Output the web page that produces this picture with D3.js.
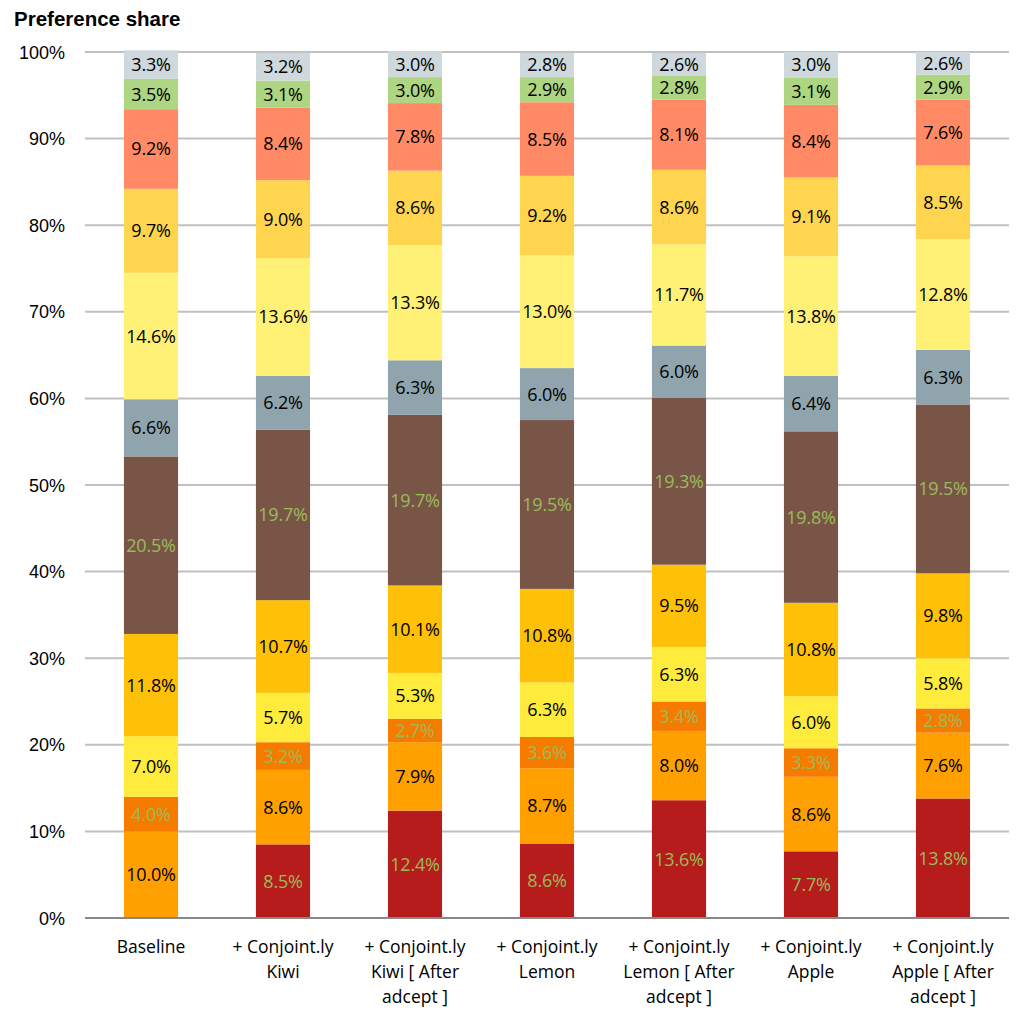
<!DOCTYPE html>
<html><head><meta charset="utf-8">
<script src="https://cdn.jsdelivr.net/npm/d3@7"></script>
<style>body{margin:0;background:#fff}</style>
</head><body>
<svg id="chart" width="1031" height="1021"></svg>
<script>
const categories = [
  ["Baseline"],
  ["+ Conjoint.ly", "Kiwi"],
  ["+ Conjoint.ly", "Kiwi [ After", "adcept ]"],
  ["+ Conjoint.ly", "Lemon"],
  ["+ Conjoint.ly", "Lemon [ After", "adcept ]"],
  ["+ Conjoint.ly", "Apple"],
  ["+ Conjoint.ly", "Apple [ After", "adcept ]"]
];
const seriesNames = ["s1","s2","s3","s4","s5","s6","s7","s8","s9","s10","s11","s12"];
const seriesColors = ["#B71C1C","#FFA000","#F57C00","#FFEB3B","#FFC107","#795548","#90A4AE","#FFF176","#FFD54F","#FF8A65","#AED581","#CFD8DC"];
const labelColors = ["#9BBB59","#000","#9BBB59","#000","#000","#9BBB59","#000","#000","#000","#000","#000","#000"];
const s1  = [0, 8.5, 12.4, 8.6, 13.6, 7.7, 13.8];
const s2  = [10.0, 8.6, 7.9, 8.7, 8.0, 8.6, 7.6];
const s3  = [4.0, 3.2, 2.7, 3.6, 3.4, 3.3, 2.8];
const s4  = [7.0, 5.7, 5.3, 6.3, 6.3, 6.0, 5.8];
const s5  = [11.8, 10.7, 10.1, 10.8, 9.5, 10.8, 9.8];
const s6  = [20.5, 19.7, 19.7, 19.5, 19.3, 19.8, 19.5];
const s7  = [6.6, 6.2, 6.3, 6.0, 6.0, 6.4, 6.3];
const s8  = [14.6, 13.6, 13.3, 13.0, 11.7, 13.8, 12.8];
const s9  = [9.7, 9.0, 8.6, 9.2, 8.6, 9.1, 8.5];
const s10 = [9.2, 8.4, 7.8, 8.5, 8.1, 8.4, 7.6];
const s11 = [3.5, 3.1, 3.0, 2.9, 2.8, 3.1, 2.9];
const s12 = [3.3, 3.2, 3.0, 2.8, 2.6, 3.0, 2.6];
const seriesValues = [s1,s2,s3,s4,s5,s6,s7,s8,s9,s10,s11,s12];
const yTicks = [0,10,20,30,40,50,60,70,80,90,100];

const svg = d3.select("#chart");
const m = {left:85, right:1009, top:52, bottom:918};
const x = d3.scaleBand().domain(d3.range(categories.length)).range([m.left, m.right]).paddingInner(0.59).paddingOuter(0.295);
const y = d3.scaleLinear().domain([0,100]).range([m.bottom, m.top]);

svg.append("text").attr("x",14).attr("y",26).attr("font-family","Liberation Sans, Arial, sans-serif")
  .attr("font-weight","bold").attr("font-size",20.5).text("Preference share");

// grid
svg.append("g").selectAll("line").data(yTicks.filter(t=>t>0)).join("line")
  .attr("x1",m.left).attr("x2",m.right).attr("y1",d=>y(d)).attr("y2",d=>y(d))
  .attr("stroke","#C0C0C0").attr("stroke-width",2);

svg.append("g").selectAll("text").data(yTicks).join("text")
  .attr("x",65).attr("y",d=>y(d)+6.5).attr("text-anchor","end")
  .attr("font-family","Liberation Sans, Arial, sans-serif").attr("font-size",18).attr("fill","#000")
  .text(d=>d+"%");

// stack
const rows = categories.map((c,i)=>{const o={i}; seriesNames.forEach((s,k)=>o[s]=seriesValues[k][i]); return o;});
const stack = d3.stack().keys(seriesNames)(rows);
const g = svg.append("g");
stack.forEach((layer,k)=>{
  const lg = g.append("g");
  lg.selectAll("rect").data(layer).join("rect")
    .attr("x",d=>x(d.data.i)).attr("width",x.bandwidth())
    .attr("y",d=>y(d[1])).attr("height",d=>y(d[0])-y(d[1]))
    .attr("fill",seriesColors[k]);
  lg.selectAll("text").data(layer.filter(d=>d[1]-d[0]>0)).join("text")
    .attr("x",d=>x(d.data.i)+x.bandwidth()/2).attr("y",d=>(y(d[0])+y(d[1]))/2+6.5)
    .attr("text-anchor","middle").attr("font-family","Open Sans, Noto Sans, sans-serif")
    .attr("font-size",18).attr("fill",labelColors[k]).attr("letter-spacing","-0.2")
    .text(d=>(d[1]-d[0]).toFixed(1)+"%");
});

// baseline axis
svg.append("line").attr("x1",m.left).attr("x2",m.right).attr("y1",y(0)).attr("y2",y(0))
  .attr("stroke","#888").attr("stroke-width",2);

// category labels
const cg = svg.append("g");
categories.forEach((lines,i)=>{
  const t = cg.append("text").attr("text-anchor","middle")
    .attr("font-family","Open Sans, Noto Sans, sans-serif").attr("font-size",17.5).attr("fill","#000");
  lines.forEach((ln,j)=>t.append("tspan").attr("x",x(i)+x.bandwidth()/2).attr("y",953+j*25).text(ln));
});
</script>
</body></html>
